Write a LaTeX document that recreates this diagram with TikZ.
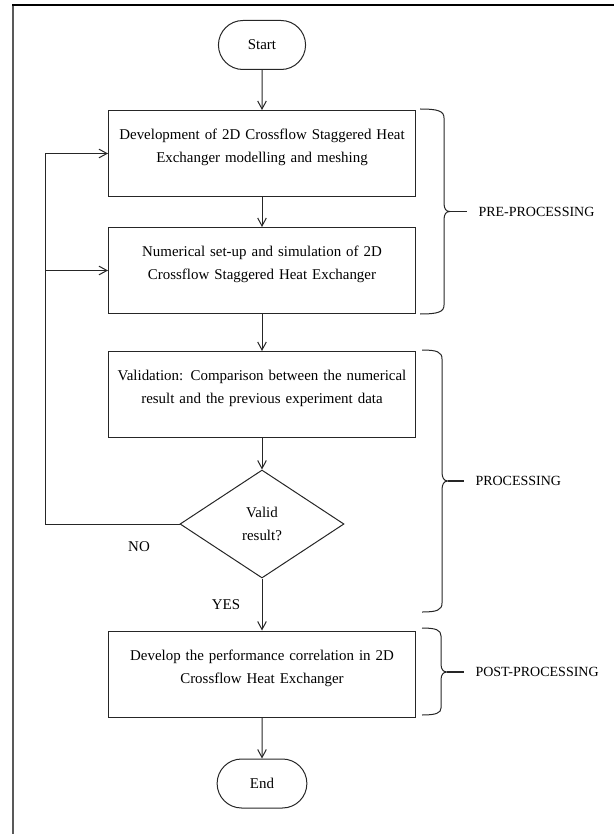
\documentclass[tikz,border=0pt]{standalone}
\usepackage{fontspec}
\setmainfont{Liberation Serif}
\usetikzlibrary{shapes.geometric, shapes.misc, arrows.meta}

\begin{document}
\begin{tikzpicture}[x=0.75pt, y=-0.75pt,
    font=\fontsize{11.2}{17.2}\selectfont,
    line width=0.75pt,
    term/.style = {draw=black!85, rounded rectangle, minimum width=72pt, minimum height=36.75pt},
    proc/.style = {draw=black!85, rectangle, minimum width=230.25pt, minimum height=64.5pt,
                   text width=222pt, align=center, text depth=28.6pt},
    test/.style = {draw=black!85, diamond, minimum width=123pt, minimum height=81pt,
                   inner sep=0pt, align=center},
    flow/.style = {draw=black!85, -{Straight Barb[length=6pt, width=6.5pt]}},
    brace/.style = {draw=black!85},
    phase/.style = {anchor=west, inner sep=0pt, font=\fontsize{10.5}{12}\selectfont},
    tick/.style = {draw=black!85, line width=1.3pt, shorten >=8pt}]
    \useasboundingbox (0, 0) rectangle (614, 834);

    % frame
    \draw[line width=1.6pt, black!65] (13, 834) -- (13, 5);
    \draw[line width=1.6pt, black] (12.2, 5) -- (614, 5);

    \node[term](start) at (262, 45) {Start};
    \node[proc](dev) at (262, 153.5) {Development of 2D Crossflow Staggered Heat\\Exchanger modelling and meshing};
    \node[proc](num) at (262, 270.5) {Numerical set-up and simulation of 2D\\Crossflow Staggered Heat Exchanger};
    \node[proc](val) at (262, 394.5) {Validation: Comparison between the numerical\\result and the previous experiment data};
    \node[test](check) at (262, 524) {Valid\\result?};
    \node[proc](corr) at (262, 674) {Develop the performance correlation in 2D\\Crossflow Heat Exchanger};
    \node[term, minimum width=74pt](end) at (262, 783.5) {End};

    \node[](no) at (139, 547) {NO};
    \node[](yes) at (226, 605) {YES};

    \draw[flow](start) -- (dev);
    \draw[flow](dev) -- (num);
    \draw[flow](num) -- (val);
    \draw[flow](val) -- (check);
    \draw[flow](check) -- (corr);
    \draw[flow](corr) -- (end);

    % loop back on NO
    \coordinate (back) at (45, 524);
    \draw[flow](check.west) -- (back) |- (dev.west);
    \draw[flow](back) |- (num.west);

    % phase braces
    \coordinate (pretip) at (450, 211.5);
    \coordinate (proctip) at (448, 481);
    \coordinate (posttip) at (447, 672);

    \draw[brace] (420, 109) .. controls (438, 109) and (444, 111) .. (444, 118) -- (444, 203)
          .. controls (444, 209) and (446, 211.5) .. (pretip)
          .. controls (446, 211.5) and (444, 214) .. (444, 220) -- (444, 305)
          .. controls (444, 312) and (438, 314) .. (420, 314);
    \draw[brace] (422, 350) .. controls (437, 350) and (442, 352) .. (442, 359) -- (442, 472)
          .. controls (442, 478) and (444, 481) .. (proctip)
          .. controls (444, 481) and (442, 484) .. (442, 490) -- (442, 603)
          .. controls (442, 610) and (437, 612) .. (422, 612);
    \draw[brace] (422, 628) .. controls (436, 628) and (441, 630) .. (441, 636) -- (441, 664)
          .. controls (441, 669) and (443, 672) .. (posttip)
          .. controls (443, 672) and (441, 675) .. (441, 680) -- (441, 708)
          .. controls (441, 713) and (436, 715) .. (422, 715);

    \node[phase](pre) at (478, 211.5) {PRE-PROCESSING};
    \node[phase](proc) at (475, 481) {PROCESSING};
    \node[phase](post) at (475, 672) {POST-PROCESSING};

    \draw[tick](pretip) -- (pre.west);
    \draw[tick](proctip) -- (proc.west);
    \draw[tick](posttip) -- (post.west);
\end{tikzpicture}
\end{document}
